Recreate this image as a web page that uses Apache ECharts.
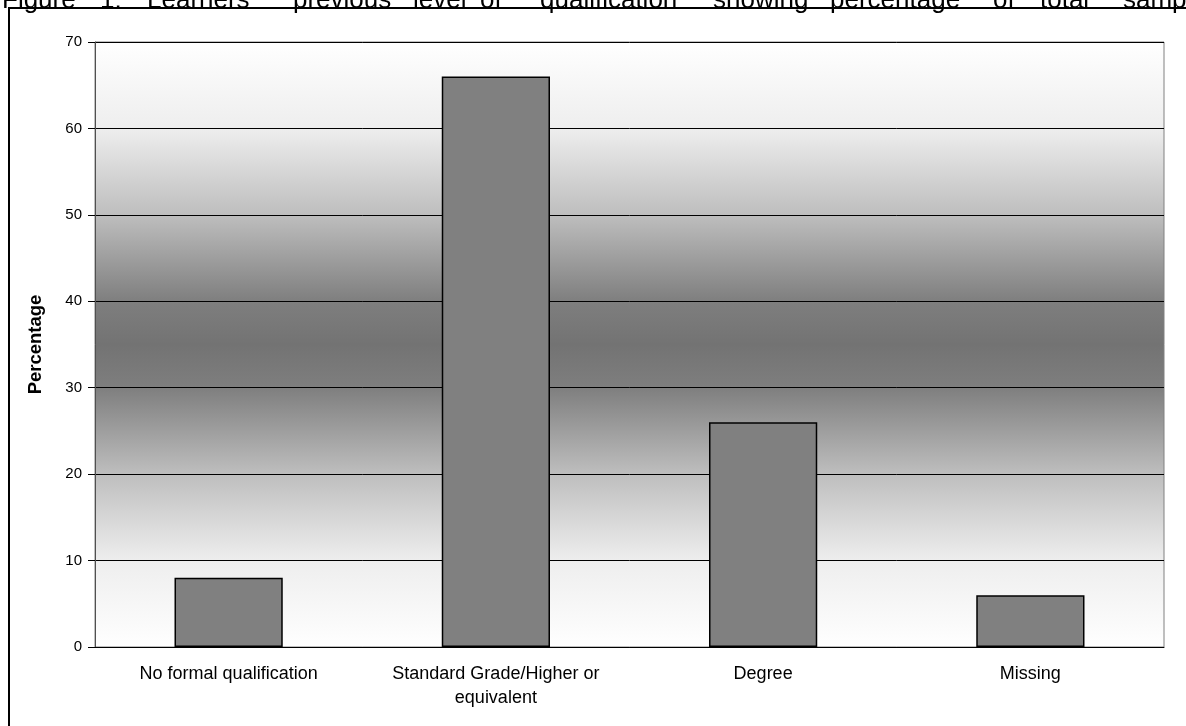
<!DOCTYPE html>
<html>
<head>
<meta charset="utf-8">
<title>Figure 1</title>
<script src="https://cdn.jsdelivr.net/npm/echarts@6/dist/echarts.min.js"></script>
<style>
  html, body { margin: 0; padding: 0; background: #fff; }
  #chart { width: 1186px; height: 726px; }
</style>
</head>
<body>
<div id="chart"></div>
<script>
// data
const categories = ['No formal qualification', 'Standard Grade/Higher or\nequivalent', 'Degree', 'Missing'];
const percentages = [8, 66, 26, 6];
const yTicks = [0, 10, 20, 30, 40, 50, 60, 70];
// title is justified across the page, so each word gets its own left edge
const titleWords = ['Figure', '1:', 'Learners\'', 'previous', 'level', 'of', 'qualification', 'showing', 'percentage', 'of', 'total', 'sample'];
const titleX = [2, 100, 147, 293, 413, 480, 540, 713, 830, 993, 1040, 1123];

const font = '"Liberation Sans", Arial, sans-serif';

let chart = echarts.init(document.getElementById('chart'));

const option = {
    animation: false,
    grid: {
        left: 95,
        right: 22,
        top: 42,
        bottom: 79,
        show: true,
        borderColor: '#808080',
        borderWidth: 1,
        backgroundColor: {
            type: 'linear', x: 0, y: 0, x2: 0, y2: 1,
            colorStops: [
                { offset: 0, color: '#ffffff' },
                { offset: 0.143, color: '#eeeeee' },
                { offset: 0.286, color: '#bebebe' },
                { offset: 0.43, color: '#7e7e7e' },
                { offset: 0.5, color: '#737373' },
                { offset: 0.57, color: '#7e7e7e' },
                { offset: 0.714, color: '#bebebe' },
                { offset: 0.857, color: '#eeeeee' },
                { offset: 1, color: '#ffffff' }
            ]
        }
    },
    xAxis: {
        type: 'category',
        data: categories,
        axisLine: { lineStyle: { color: '#000', width: 1 } },
        axisTick: { length: 5, lineStyle: { color: '#404040' } },
        axisLabel: {
            color: '#000',
            fontFamily: font,
            fontSize: 18,
            lineHeight: 24,
            margin: 15,
            interval: 0
        }
    },
    yAxis: {
        type: 'value',
        min: 0,
        max: 70,
        interval: 10,
        name: 'Percentage',
        nameLocation: 'middle',
        nameGap: 50,
        nameTextStyle: { fontFamily: font, fontSize: 18.5, fontWeight: 'bold', color: '#000' },
        axisLine: { show: true, lineStyle: { color: '#505050' } },
        axisTick: { show: true, length: 7, lineStyle: { color: '#000' } },
        axisLabel: {
            color: '#000',
            fontFamily: font,
            fontSize: 15,
            margin: 13,
            formatter: v => yTicks.indexOf(v) >= 0 ? String(v) : ''
        },
        splitLine: { lineStyle: { color: '#000', width: 1 } }
    },
    series: [{
        type: 'bar',
        data: percentages,
        barWidth: '40.5%',
        itemStyle: { color: '#808080', borderColor: '#000', borderWidth: 1.5 }
    }],
    graphic: [
        {
            type: 'rect',
            shape: { x: 9, y: 8, width: 1300, height: 900 },
            style: { fill: null, stroke: '#000', lineWidth: 2 },
            silent: true,
            z: 10
        }
    ].concat(titleWords.map((w, i) => ({
        type: 'text',
        x: titleX[i],
        y: 14,
        style: {
            text: w,
            fill: '#000',
            font: '26px ' + font,
            verticalAlign: 'bottom'
        },
        silent: true,
        z: 5
    })))
};

chart.setOption(option);
window.addEventListener('resize', () => {
    chart.resize();
});
</script>
</body>
</html>
